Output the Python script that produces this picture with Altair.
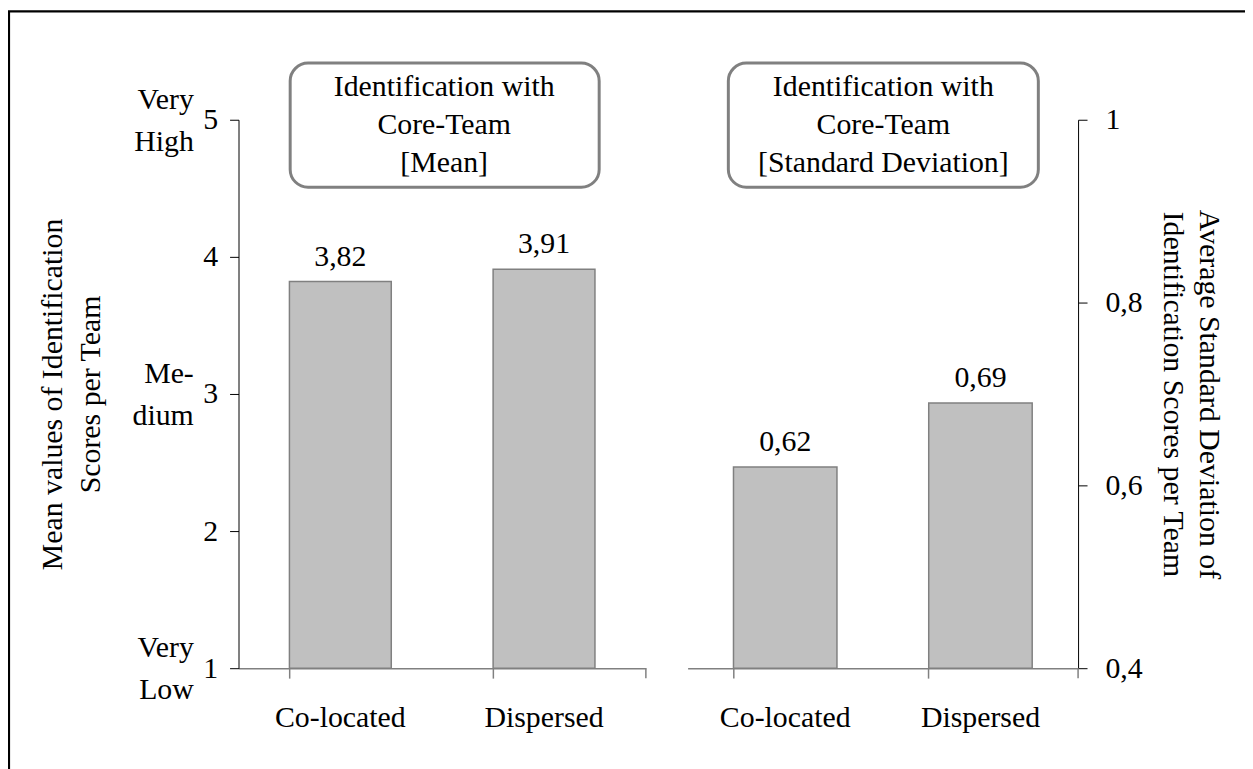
import altair as alt
import pandas as pd

# ---- data ----
categories = ["Co-located", "Dispersed"]
mean_values = [3.82, 3.91]
mean_labels = ["3,82", "3,91"]
sd_values = [0.62, 0.69]
sd_labels = ["0,62", "0,69"]
mean_ticks = [1, 2, 3, 4, 5]
sd_ticks = [0.4, 0.6, 0.8, 1.0]
scale_words = ["Very\nHigh", "Me-\ndium", "Very\nLow"]
scale_word_values = [5, 3, 1]
box_titles = ["Identification with\nCore-Team\n[Mean]",
              "Identification with\nCore-Team\n[Standard Deviation]"]
left_title = ["Mean values of Identification", "Scores per Team"]
right_title = ["Average Standard Deviation of", "Identification Scores per Team"]

FONT = "Liberation Serif"
FS = 30
BAR_FILL = "#c0c0c0"
BAR_STROKE = "#808080"
W, H = 845, 552

df_l = pd.DataFrame({"cat": categories, "val": mean_values, "lab": mean_labels})
df_r = pd.DataFrame({"cat": categories, "val": sd_values, "lab": sd_labels})
df_words = pd.DataFrame({"val": scale_word_values, "t": scale_words})
one = pd.DataFrame({"t": [""]})


def x_enc(rng, pin, pout):
    return alt.X(
        "cat:N", sort=categories,
        scale=alt.Scale(range=rng, paddingInner=pin, paddingOuter=pout),
        axis=alt.Axis(orient="bottom", title=None, labelAngle=0,
                      domainColor="#808080", tickColor="#808080",
                      domainWidth=1.5, tickWidth=1.5, tickSize=10,
                      bandPosition=0, labelPadding=25, labelBaseline="top"),
    )


# ---- left panel ----
xl = x_enc([0, 410], 0.5, 0.25)
yl = alt.Y(
    "val:Q",
    scale=alt.Scale(domain=[1, 5], nice=False, zero=False),
    axis=alt.Axis(orient="left", values=mean_ticks, title=left_title,
                  titleX=-187, titleY=H / 2, titleAngle=270,
                  titleBaseline="middle", titleAlign="center",
                  titleLineHeight=38, tickSize=9, labelPadding=12,
                  domainColor="black", tickColor="black"),
)

bars_l = alt.Chart(df_l).mark_bar(
    fill=BAR_FILL, stroke=BAR_STROKE, strokeWidth=1.5
).encode(x=xl, y=yl, y2=alt.datum(1))
labels_l = alt.Chart(df_l).mark_text(
    font=FONT, fontSize=FS, baseline="alphabetic", dy=-16, color="black"
).encode(x=xl, y=yl, text="lab:N")
words_l = alt.Chart(df_words).mark_text(
    font=FONT, fontSize=FS, align="right", baseline="middle",
    lineBreak="\n", lineHeight=42, dy=-20, color="black"
).encode(x=alt.value(-45), y=yl, text="t:N")
endtick_l = alt.Chart(one).mark_rule(color="#808080", strokeWidth=1.5).encode(
    x=alt.value(410), y=alt.value(H), y2=alt.value(H + 10))
box_l = alt.Chart(one).mark_rect(
    cornerRadius=18, fill="white", stroke="#808080", strokeWidth=3
).encode(x=alt.value(52), x2=alt.value(363), y=alt.value(-57), y2=alt.value(68))
boxtext_l = alt.Chart(pd.DataFrame({"t": [box_titles[0]]})).mark_text(
    font=FONT, fontSize=FS, align="center", baseline="middle",
    lineBreak="\n", lineHeight=38.5, color="black"
).encode(x=alt.value(207), y=alt.value(-33), text="t:N")

left = alt.layer(bars_l, labels_l, words_l, endtick_l, box_l, boxtext_l)

# ---- right panel ----
xr = x_enc([452, 845], 0.47, 0.235)
yr = alt.Y(
    "val:Q",
    scale=alt.Scale(domain=[0.4, 1.0], nice=False, zero=False),
    axis=alt.Axis(orient="right", values=sd_ticks, title=right_title,
                  titleX=131, titleY=H / 2, titleAngle=90,
                  titleBaseline="middle", titleAlign="center",
                  titleLineHeight=36, tickSize=9, labelPadding=18,
                  domainColor="black", tickColor="black",
                  labelExpr="datum.value == 1 ? '1' : replace(format(datum.value, '.1f'), '.', ',')"),
)

bars_r = alt.Chart(df_r).mark_bar(
    fill=BAR_FILL, stroke=BAR_STROKE, strokeWidth=1.5
).encode(x=xr, y=yr, y2=alt.datum(0.4))
labels_r = alt.Chart(df_r).mark_text(
    font=FONT, fontSize=FS, baseline="alphabetic", dy=-16, color="black"
).encode(x=xr, y=yr, text="lab:N")
endtick_r = alt.Chart(one).mark_rule(color="#808080", strokeWidth=1.5).encode(
    x=alt.value(845), y=alt.value(H), y2=alt.value(H + 10))
box_r = alt.Chart(one).mark_rect(
    cornerRadius=18, fill="white", stroke="#808080", strokeWidth=3
).encode(x=alt.value(493), x2=alt.value(805), y=alt.value(-57), y2=alt.value(68))
boxtext_r = alt.Chart(pd.DataFrame({"t": [box_titles[1]]})).mark_text(
    font=FONT, fontSize=FS, align="center", baseline="middle",
    lineBreak="\n", lineHeight=38.5, color="black"
).encode(x=alt.value(649), y=alt.value(-33), text="t:N")

right = alt.layer(bars_r, labels_r, endtick_r, box_r, boxtext_r)

# ---- outer frame ----
frame = alt.Chart(one).mark_rect(
    fill=None, stroke="black", strokeWidth=2.2
).encode(x=alt.value(-231), x2=alt.value(1200), y=alt.value(-109), y2=alt.value(800))

chart = (
    alt.layer(frame, left, right)
    .resolve_scale(x="independent", y="independent")
    .properties(
        width=W, height=H,
        autosize=alt.AutoSizeParams(type="none"),
        padding={"left": 232, "top": 110, "right": 168, "bottom": 99},
    )
    .configure_view(stroke=None)
    .configure_axis(
        labelFont=FONT, titleFont=FONT, labelFontSize=FS, titleFontSize=FS,
        titleFontWeight="normal", labelColor="black", titleColor="black",
        grid=False,
    )
)

chart.save("out.html", embed_options={"renderer": "svg", "actions": False})
